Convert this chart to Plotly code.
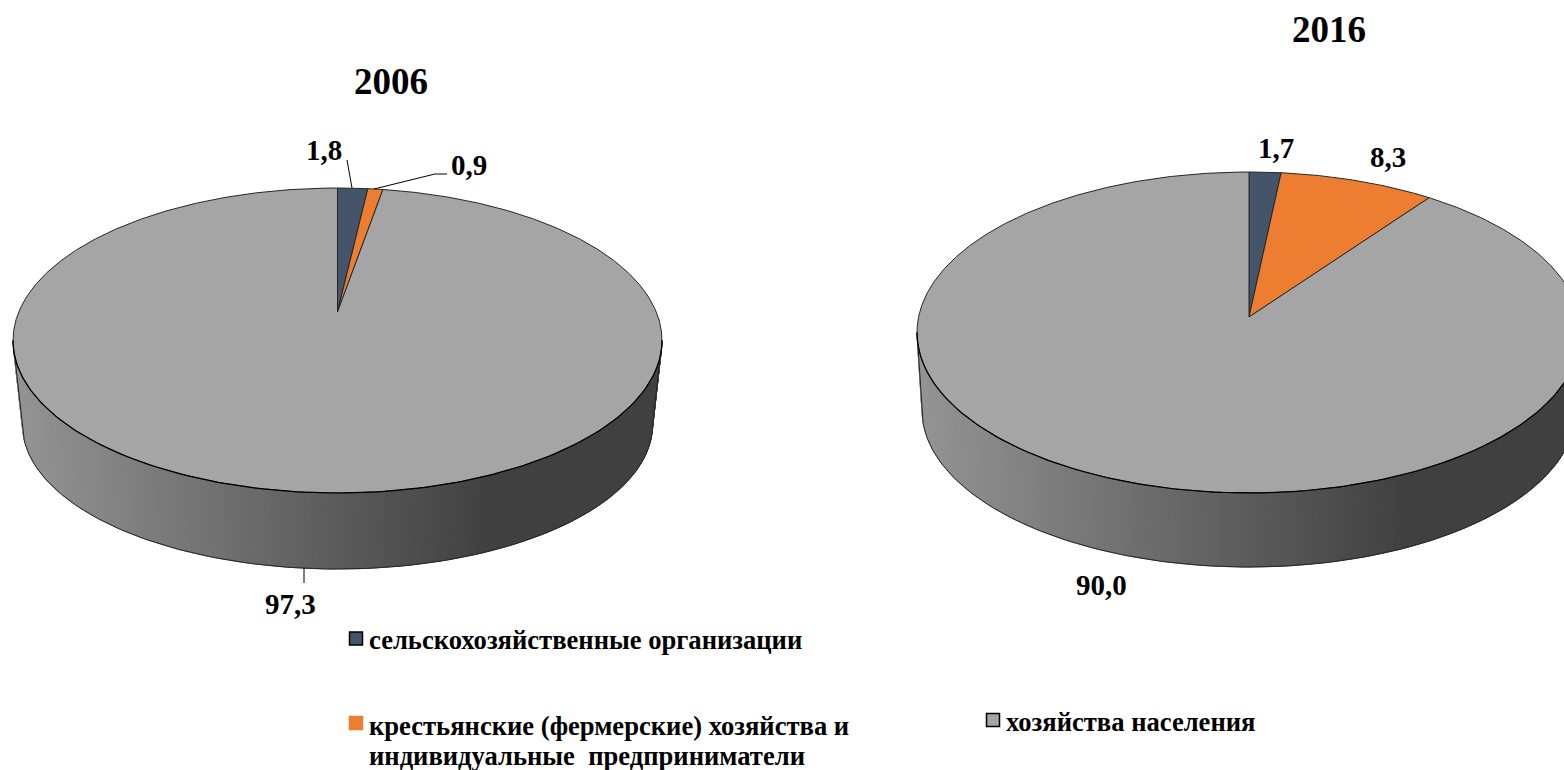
import numpy as np
import plotly.graph_objects as go

# ---------- data ----------
categories = ["сельскохозяйственные организации",
              "крестьянские (фермерские) хозяйства и<br>индивидуальные\u00a0\u00a0предприниматели",
              "хозяйства населения"]
values_2006 = [1.8, 0.9, 97.3]
values_2016 = [1.7, 8.3, 90.0]
titles = ["2006", "2016"]
colors = ["#44546a", "#ed7d31", "#a5a5a5"]

# ---------- geometry of the two perspective discs (pixels) ----------
W, H = 1564, 770
DISC_2006 = dict(cx=337.5, left=13, top=188, bottom=493, apex=312,
                 wall_rx=315, wall_cy=425, wall_bottom=569)
DISC_2016 = dict(cx=1249, left=917, top=172, bottom=493, apex=317,
                 wall_rx=327, wall_cy=410, wall_bottom=567)
EDGE = "#262626"

fig = go.Figure()


def disc_projection(g):
    """Perspective projection of the unit circle on to the page."""
    d, t, b = g["apex"], g["top"], g["bottom"]
    e = (t + b - 2 * d) / (b - t)
    c = t * (1 + e) - d
    rx = g["cx"] - g["left"]
    R = rx * np.sqrt(1 - e * e)

    def project(theta):
        u, v = np.sin(theta), np.cos(theta)
        w = 1 + e * v
        return g["cx"] + R * u / w, (c * v + d) / w
    return project


def shade(frac):
    level = 148 - (148 - 64) * min(frac / 0.74, 1.0)
    level = int(round(level))
    return f"rgb({level},{level},{level})"


def add_pie(values, g):
    rx = g["cx"] - g["left"]
    cy = (g["top"] + g["bottom"]) / 2
    ry = (g["bottom"] - g["top"]) / 2
    wall_ry = g["wall_bottom"] - g["wall_cy"]
    n = 150
    ts = np.linspace(np.pi, 0, n + 1)
    top_x = g["cx"] + rx * np.cos(ts)
    top_y = cy + ry * np.sin(ts)
    bot_x = g["cx"] + g["wall_rx"] * np.cos(ts)
    bot_y = g["wall_cy"] + wall_ry * np.sin(ts)
    # shaded side wall
    for i in range(n):
        frac = (0.5 * (bot_x[i] + bot_x[i + 1]) - (g["cx"] - g["wall_rx"])) / (2 * g["wall_rx"])
        col = shade(frac)
        fig.add_trace(go.Scatter(
            x=[top_x[i], top_x[i + 1], bot_x[i + 1], bot_x[i], top_x[i]],
            y=[top_y[i], top_y[i + 1], bot_y[i + 1], bot_y[i], top_y[i]],
            mode="lines", fill="toself", fillcolor=col,
            line=dict(color=col, width=1), hoverinfo="skip", showlegend=False))
    # outline of the wall
    fig.add_trace(go.Scatter(
        x=np.r_[top_x[0], bot_x, top_x[-1]], y=np.r_[top_y[0], bot_y, top_y[-1]],
        mode="lines", line=dict(color=EDGE, width=1), hoverinfo="skip", showlegend=False))
    # slices of the top face
    project = disc_projection(g)
    total = sum(values)
    start = 0.0
    for val, col in zip(values, colors):
        a0 = 2 * np.pi * start / total
        start += val
        a1 = 2 * np.pi * start / total
        th = np.linspace(a0, a1, max(3, int(val * 8)))
        px, py = project(th)
        ax, ay = project(np.array([0.0]))[0][0], g["apex"]
        fig.add_trace(go.Scatter(
            x=np.r_[ax, px, ax], y=np.r_[ay, py, ay],
            mode="lines", fill="toself", fillcolor=col,
            line=dict(color=EDGE, width=1), hoverinfo="skip", showlegend=False))
    # darker front rim of the top face
    fig.add_trace(go.Scatter(x=top_x, y=top_y, mode="lines", line=dict(color="#000000", width=1.2),
                             hoverinfo="skip", showlegend=False))


add_pie(values_2006, DISC_2006)
add_pie(values_2016, DISC_2016)

# leader lines
for lx, ly in [([347, 352], [160, 188]),
               ([374, 435, 447], [189, 174, 174]),
               ([304, 304], [568, 583])]:
    fig.add_trace(go.Scatter(x=lx, y=ly, mode="lines", line=dict(color="#000000", width=1),
                             hoverinfo="skip", showlegend=False))

# legend swatches
for (sx, sy), col, lc in zip([(356, 638.5), (356, 723), (993, 720)], colors, ["#000000", "#ed7d31", "#000000"]):
    fig.add_trace(go.Scatter(x=[sx], y=[sy], mode="markers",
                             marker=dict(symbol="square", size=13, color=col, line=dict(color=lc, width=1.5)),
                             hoverinfo="skip", showlegend=False))

FONT = "Liberation Serif"


def text(x, y, s, size, anchor="center", align="center"):
    fig.add_annotation(x=x, y=y, text=f"<b>{s}</b>", showarrow=False, xanchor=anchor, yanchor="middle",
                       align=align, font=dict(family=FONT, size=size, color="#000000"))


def fmt(v):
    return f"{v:.1f}".replace(".", ",")


text(391, 81, titles[0], 37)
text(1329, 29, titles[1], 37)
for v, (x, y) in zip(values_2006, [(323.5, 150), (469, 165), (290, 604)]):
    text(x, y, fmt(v), 29)
for v, (x, y) in zip(values_2016, [(1276, 148), (1388, 157), (1101, 585)]):
    text(x, y, fmt(v), 29)
text(367, 640, categories[0], 26.6, "left", "left")
line1, line2 = categories[1].split("<br>")
text(367, 725.5, line1, 26.6, "left", "left")
text(367, 755.5, line2, 26.6, "left", "left")
text(1004, 721.5, categories[2], 26.6, "left", "left")

fig.update_layout(
    width=W, height=H, margin=dict(l=0, r=0, t=0, b=0),
    paper_bgcolor="#ffffff", plot_bgcolor="#ffffff", showlegend=False,
    xaxis=dict(range=[0, W], visible=False, fixedrange=True),
    yaxis=dict(range=[H, 0], visible=False, fixedrange=True),
)
fig.write_html("out.html", config=dict(displayModeBar=False),
               post_script="document.body.style.margin='0';document.body.style.overflow='hidden';")
